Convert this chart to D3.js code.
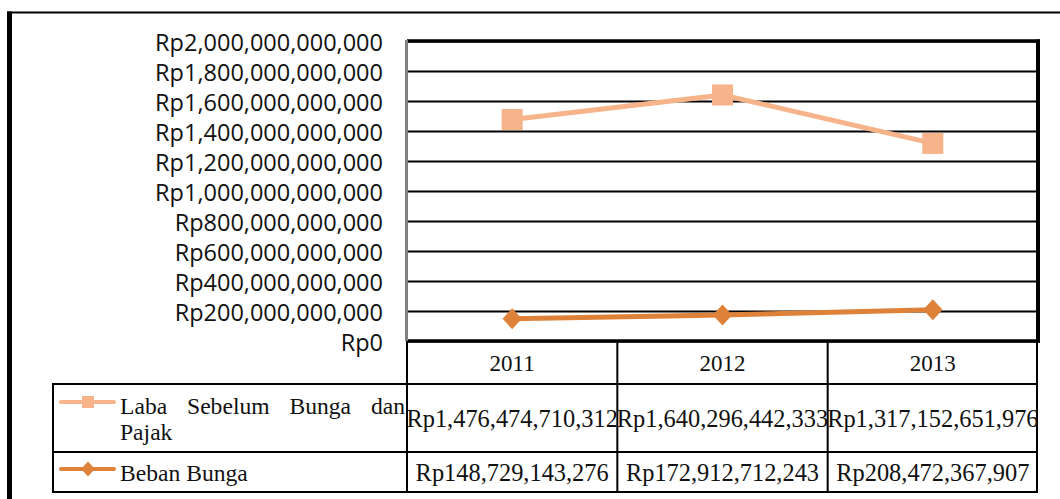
<!DOCTYPE html>
<html>
<head>
<meta charset="utf-8">
<script src="https://cdn.jsdelivr.net/npm/d3@7"></script>
<style>
  html, body { margin: 0; padding: 0; background: #fff; }
  svg { display: block; }
  .ylab text { font-family: "Open Sans", sans-serif; font-size: 23.5px; fill: #111; }
  .serif { font-family: "Liberation Serif", "Times New Roman", serif; font-size: 23px; fill: #111; }
  .val { font-size: 24.4px; }
  .leg { font-size: 23.6px; }
</style>
</head>
<body>
<svg id="chart" width="1060" height="499"></svg>
<script>
// Years on the category axis / table header
const years = ["2011", "2012", "2013"];
// Series values (Rupiah)
const labaValues = [1476474710312, 1640296442333, 1317152651976];
const bebanValues = [148729143276, 172912712243, 208472367907];
// Series names shown in the data table legend
const seriesNames = ["Laba Sebelum Bunga dan Pajak", "Beban Bunga"];
// Value-axis ticks
const yTicks = [0, 2e11, 4e11, 6e11, 8e11, 1e12, 1.2e12, 1.4e12, 1.6e12, 1.8e12, 2e12];

const series = [
  { name: seriesNames[0], values: labaValues, color: "#F7B48A", marker: "square" },
  { name: seriesNames[1], values: bebanValues, color: "#DE8139", marker: "diamond" }
];

const rp = v => "Rp" + d3.format(",.0f")(v);

const svg = d3.select("#chart");

// Plot geometry
const plotL = 407, plotR = 1038, plotT = 41, plotB = 341;
const rowHeader = [341, 384], rowLaba = [384, 452], rowBeban = [452, 492];
const legendL = 53;

const x = d3.scaleBand().domain(years).range([plotL, plotR]);
const y = d3.scaleLinear().domain([0, 2e12]).range([plotB, plotT]);

// Outer frame
svg.append("line").attr("x1", 7).attr("x2", 1060).attr("y1", 12.5).attr("y2", 12.5)
  .attr("stroke", "#000").attr("stroke-width", 2);
svg.append("line").attr("x1", 9.5).attr("x2", 9.5).attr("y1", 11.5).attr("y2", 499)
  .attr("stroke", "#000").attr("stroke-width", 5);

// Horizontal gridlines
const grid = svg.append("g").attr("transform", `translate(${plotL},0)`)
  .call(d3.axisLeft(y).tickValues(yTicks).tickSize(-(plotR - plotL)).tickFormat(""));
grid.select(".domain").remove();
grid.selectAll(".tick line").attr("stroke", "#000").attr("stroke-width", 2);

// Value-axis labels
const ylab = svg.append("g").attr("class", "ylab").attr("transform", `translate(${plotL},0)`)
  .call(d3.axisLeft(y).tickValues(yTicks).tickSize(0).tickPadding(24).tickFormat(rp));
ylab.select(".domain").remove();
ylab.selectAll(".tick text").attr("font-family", null).attr("font-size", null)
  .attr("dy", "0.42em");

// Plot border
svg.append("line").attr("x1", plotL).attr("x2", plotR + 2).attr("y1", plotT).attr("y2", plotT)
  .attr("stroke", "#000").attr("stroke-width", 3.5);
svg.append("line").attr("x1", plotR).attr("x2", plotR).attr("y1", plotT - 1.5).attr("y2", plotB + 1.5)
  .attr("stroke", "#000").attr("stroke-width", 4);
svg.append("line").attr("x1", plotL).attr("x2", plotR + 2).attr("y1", plotB).attr("y2", plotB)
  .attr("stroke", "#000").attr("stroke-width", 3.5);
svg.append("line").attr("x1", plotL - 0.5).attr("x2", plotL - 0.5).attr("y1", plotT - 1).attr("y2", plotB)
  .attr("stroke", "#808080").attr("stroke-width", 3);

// Data table lines
const tbl = svg.append("g").attr("stroke", "#000").attr("stroke-width", 2).attr("fill", "none");
// vertical separators between year columns
years.forEach((yr, i) => {
  if (i > 0) tbl.append("line").attr("x1", x(yr)).attr("x2", x(yr)).attr("y1", plotB).attr("y2", rowBeban[1]);
});
tbl.append("line").attr("x1", plotL).attr("x2", plotL).attr("y1", plotB).attr("y2", rowBeban[1]);
tbl.append("line").attr("x1", plotR - 1).attr("x2", plotR - 1).attr("y1", plotB).attr("y2", rowBeban[1]);
tbl.append("line").attr("x1", plotL).attr("x2", plotR).attr("y1", rowHeader[1]).attr("y2", rowHeader[1]);
tbl.append("line").attr("x1", legendL).attr("x2", plotR).attr("y1", rowLaba[0]).attr("y2", rowLaba[0]);
tbl.append("line").attr("x1", legendL).attr("x2", plotR).attr("y1", rowLaba[1]).attr("y2", rowLaba[1]);
tbl.append("line").attr("x1", legendL).attr("x2", plotR).attr("y1", rowBeban[1]).attr("y2", rowBeban[1]);
tbl.append("line").attr("x1", legendL).attr("x2", legendL).attr("y1", rowLaba[0] - 1).attr("y2", rowBeban[1] + 1);

// Year header
svg.append("g").selectAll("text").data(years).join("text")
  .attr("class", "serif")
  .attr("x", d => x(d) + x.bandwidth() / 2)
  .attr("y", (rowHeader[0] + rowHeader[1]) / 2)
  .attr("dy", "0.35em")
  .attr("text-anchor", "middle")
  .text(d => d);

// Table values
const rows = [rowLaba, rowBeban];
series.forEach((s, si) => {
  svg.append("g").selectAll("text").data(s.values).join("text")
    .attr("class", "serif val")
    .attr("x", (d, i) => x(years[i]) + x.bandwidth() / 2)
    .attr("y", (rows[si][0] + rows[si][1]) / 2)
    .attr("dy", "0.35em")
    .attr("text-anchor", "middle")
    .text(d => rp(d));
});

// Marker shapes
function drawMarker(g, kind, cx, cy, size, color) {
  if (kind === "square") {
    g.append("rect").attr("x", cx - size / 2).attr("y", cy - size / 2)
      .attr("width", size).attr("height", size).attr("fill", color);
  } else {
    const h = size / 2;
    g.append("path").attr("d", `M${cx},${cy - h}L${cx + h * 0.92},${cy}L${cx},${cy + h}L${cx - h * 0.92},${cy}Z`)
      .attr("fill", color);
  }
}

// Series lines and markers
const line = d3.line().x((d, i) => x(years[i]) + x.bandwidth() / 2).y(d => y(d));
series.forEach(s => {
  const g = svg.append("g");
  g.append("path").datum(s.values).attr("d", line)
    .attr("fill", "none").attr("stroke", s.color).attr("stroke-width", 5)
    .attr("stroke-linejoin", "round");
  s.values.forEach((v, i) => {
    drawMarker(g, s.marker, x(years[i]) + x.bandwidth() / 2, y(v), 21, s.color);
  });
});

// Legend keys inside the table
const keyX1 = 61, keyX2 = 114, keyMid = 88;
const keyY = [402, 469];
series.forEach((s, si) => {
  const g = svg.append("g");
  g.append("line").attr("x1", keyX1).attr("x2", keyX2).attr("y1", keyY[si]).attr("y2", keyY[si])
    .attr("stroke", s.color).attr("stroke-width", 4).attr("stroke-linecap", "round");
  drawMarker(g, s.marker, keyMid, keyY[si], s.marker === "square" ? 12 : 15, s.color);
});

// Legend text: first name wraps and is justified across the cell
const textL = 120, textR = 405;
{
  const words = ["Laba", "Sebelum", "Bunga", "dan"];
  const g = svg.append("g");
  const nodes = words.map(w => g.append("text").attr("class", "serif leg").attr("y", 414).text(w));
  const widths = nodes.map(n => n.node().getComputedTextLength());
  const gap = (textR - textL - d3.sum(widths)) / (words.length - 1);
  let cx = textL;
  nodes.forEach((n, i) => { n.attr("x", cx); cx += widths[i] + gap; });
  g.append("text").attr("class", "serif leg").attr("x", textL).attr("y", 440).text("Pajak");
}
svg.append("text").attr("class", "serif leg").attr("x", textL).attr("y", rowBeban[0] + 29).text(seriesNames[1]);
</script>
</body>
</html>
